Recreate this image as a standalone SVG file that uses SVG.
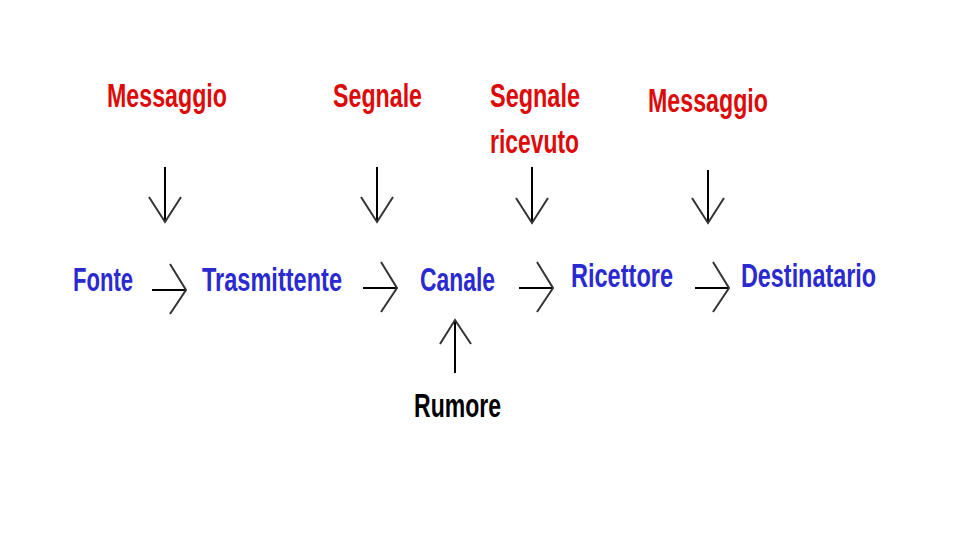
<svg xmlns="http://www.w3.org/2000/svg" width="960" height="540" viewBox="0 0 960 540">
<style>
text { font-family: "Liberation Sans", Arial, sans-serif; font-weight: bold; font-size: 34px; }
.red { fill: #dd0a0a; }
.blue { fill: #2a2ad0; }
.blk { fill: #000; }
.shaft { stroke: #000; stroke-width: 2; fill: none; }
.head { stroke: #333; stroke-width: 2; fill: none; }
</style>
<rect width="960" height="540" fill="#fff"/>
<g id="labels">
  <g id="msg1"><text class="red" x="107" y="107" textLength="120" lengthAdjust="spacingAndGlyphs">Messaggio</text></g>
  <g id="seg1"><text class="red" x="333" y="107" textLength="89" lengthAdjust="spacingAndGlyphs">Segnale</text></g>
  <g id="seg2"><text class="red" x="490" y="107" textLength="90" lengthAdjust="spacingAndGlyphs">Segnale</text>
    <text class="red" x="490" y="153" textLength="89" lengthAdjust="spacingAndGlyphs">ricevuto</text></g>
  <g id="msg2"><text class="red" x="648" y="112" textLength="120" lengthAdjust="spacingAndGlyphs">Messaggio</text></g>
</g>
<g id="fonte"><text class="blue" x="73" y="291" textLength="60" lengthAdjust="spacingAndGlyphs">Fonte</text></g>
<g id="trasmittente"><text class="blue" x="202" y="291" textLength="140" lengthAdjust="spacingAndGlyphs">Trasmittente</text></g>
<g id="canale"><text class="blue" x="420" y="291" textLength="75" lengthAdjust="spacingAndGlyphs">Canale</text></g>
<g id="ricettore"><text class="blue" x="571" y="287" textLength="102" lengthAdjust="spacingAndGlyphs">Ricettore</text></g>
<g id="destinatario"><text class="blue" x="741" y="287" textLength="135" lengthAdjust="spacingAndGlyphs">Destinatario</text></g>
<g id="rumore"><text class="blk" x="414" y="417" textLength="87" lengthAdjust="spacingAndGlyphs">Rumore</text></g>
<g id="connectors">
  <line class="shaft" x1="165" y1="167" x2="165" y2="222"/>
  <polyline class="head" points="149,197 165,222 181,197"/>
  <line class="shaft" x1="377" y1="167" x2="377" y2="222"/>
  <polyline class="head" points="361,197 377,222 393,197"/>
  <line class="shaft" x1="532" y1="167" x2="532" y2="223"/>
  <polyline class="head" points="516,198 532,223 548,198"/>
  <line class="shaft" x1="708" y1="170" x2="708" y2="223"/>
  <polyline class="head" points="692,198 708,223 724,198"/>

  <line class="shaft" x1="152" y1="290" x2="186" y2="290"/>
  <polyline class="head" points="170,264 186,290 170,314"/>
  <line class="shaft" x1="363" y1="288" x2="397" y2="288"/>
  <polyline class="head" points="381,262 397,288 381,312"/>
  <line class="shaft" x1="519" y1="288" x2="553" y2="288"/>
  <polyline class="head" points="537,262 553,288 537,312"/>
  <line class="shaft" x1="695" y1="288" x2="729" y2="288"/>
  <polyline class="head" points="713,262 729,288 713,312"/>

  <line class="shaft" x1="455" y1="373" x2="455" y2="320"/>
  <polyline class="head" points="440,344 455,320 471,344"/>
</g>
</svg>
